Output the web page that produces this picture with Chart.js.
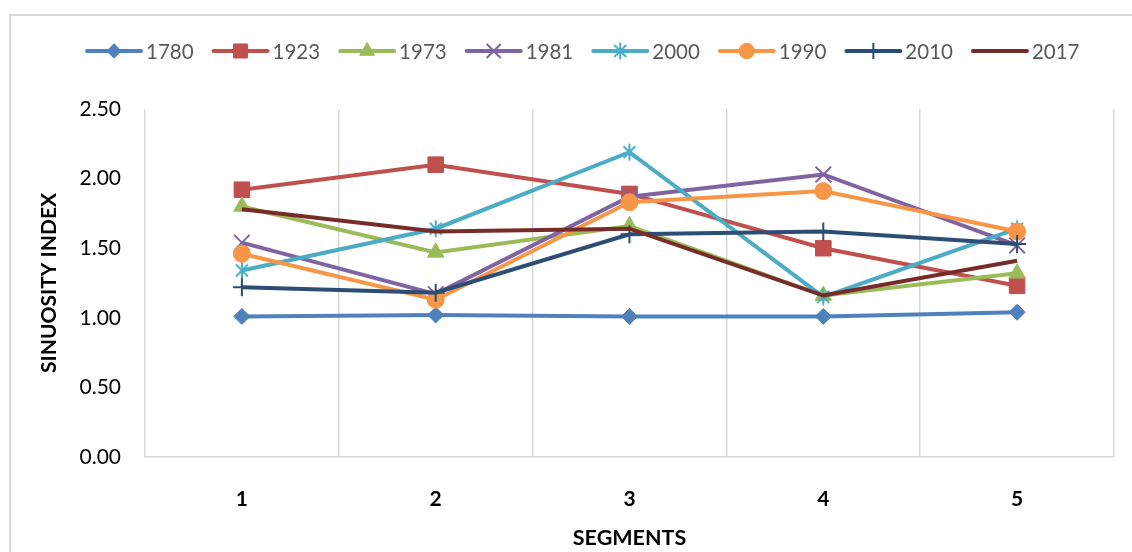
<!DOCTYPE html>
<html>
<head>
<meta charset="utf-8">
<title>Sinuosity index by segment</title>
<script src="https://cdn.jsdelivr.net/npm/chart.js@4.4.0/dist/chart.umd.min.js"></script>
<style>
  html, body { margin: 0; padding: 0; background: #ffffff; }
  #wrap { width: 1132px; height: 552px; position: relative; }
  canvas { display: block; }
</style>
</head>
<body>
<div id="wrap"><canvas id="chart" width="1132" height="552"></canvas></div>
<script>
// Segment categories and y-axis ticks
const segments = ['1', '2', '3', '4', '5'];
const yTicks = [0, 0.5, 1.0, 1.5, 2.0, 2.5];

// Sinuosity index per segment, one array per survey year
const years = ['1780', '1923', '1973', '1981', '2000', '1990', '2010', '2017'];
const s1780 = [1.01, 1.02, 1.01, 1.01, 1.04];
const s1923 = [1.92, 2.10, 1.89, 1.50, 1.23];
const s1973 = [1.80, 1.47, 1.66, 1.16, 1.32];
const s1981 = [1.54, 1.17, 1.87, 2.03, 1.52];
const s2000 = [1.34, 1.64, 2.19, 1.15, 1.64];
const s1990 = [1.46, 1.13, 1.83, 1.91, 1.62];
const s2010 = [1.22, 1.18, 1.60, 1.62, 1.53];
const s2017 = [1.78, 1.62, 1.64, 1.16, 1.41];
const seriesValues = [s1780, s1923, s1973, s1981, s2000, s1990, s2010, s2017];

// Asterisk marker (vertical stroke plus a diagonal cross)
function makeAsterisk(color) {
  const c = document.createElement('canvas');
  c.width = 20; c.height = 20;
  const g = c.getContext('2d');
  g.strokeStyle = color;
  g.lineWidth = 2;
  g.lineCap = 'butt';
  g.beginPath();
  g.moveTo(10, 1.5); g.lineTo(10, 18.5);
  g.moveTo(4, 4); g.lineTo(16, 16);
  g.moveTo(16, 4); g.lineTo(4, 16);
  g.stroke();
  return c;
}

// Line colour and marker for each year
const styles = [
  { color: '#4F81BD', point: 'rectRot',  radius: 8,   bw: 1 },
  { color: '#C0504D', point: 'rect',     radius: 11,  bw: 1 },
  { color: '#9BBB59', point: 'triangle', radius: 9.5, bw: 1 },
  { color: '#8064A2', point: 'crossRot', radius: 11,  bw: 2 },
  { color: '#4BACC6', point: makeAsterisk('#4BACC6'), radius: 9, bw: 2 },
  { color: '#F79646', point: 'circle',   radius: 8.5, bw: 1 },
  { color: '#2C4D75', point: 'cross',    radius: 9,   bw: 2 },
  { color: '#772C2A', point: false,      radius: 0,   bw: 0 }
];

const datasets = years.map((yr, i) => ({
  label: yr,
  data: seriesValues[i],
  borderColor: styles[i].color,
  backgroundColor: styles[i].color,
  borderWidth: 4,
  pointStyle: styles[i].point,
  pointRadius: styles[i].radius,
  pointHoverRadius: styles[i].radius,
  pointBorderWidth: styles[i].bw,
  pointBorderColor: styles[i].color,
  pointBackgroundColor: styles[i].color,
  tension: 0,
  fill: false,
  order: years.length - i,  // later series are painted on top
  clip: false
}));

// Frame around the chart and the line-and-marker legend across the top
const framePlugin = {
  id: 'frameAndLegend',
  beforeDraw(chart) {
    const ctx = chart.ctx;
    ctx.save();
    ctx.fillStyle = '#ffffff';
    ctx.fillRect(0, 0, chart.width, chart.height);
    ctx.strokeStyle = '#d9d9d9';
    ctx.lineWidth = 2;
    ctx.strokeRect(10, 15, chart.width + 40, chart.height + 40);
    ctx.restore();
  },
  afterDraw(chart) {
    const ctx = chart.ctx;
    const y = 51;
    const lineLen = 54, textGap = 5, itemGap = 20;
    ctx.save();
    ctx.font = '20.5px Lato, "Open Sans", sans-serif';
    ctx.textBaseline = 'middle';
    ctx.textAlign = 'left';
    let x = 87;
    chart.data.datasets.forEach((ds) => {
      ctx.strokeStyle = ds.borderColor;
      ctx.lineWidth = ds.borderWidth;
      ctx.lineCap = 'round';
      ctx.beginPath();
      ctx.moveTo(x, y);
      ctx.lineTo(x + lineLen, y);
      ctx.stroke();
      if (ds.pointStyle && ds.pointRadius > 0) {
        ctx.fillStyle = ds.pointBackgroundColor;
        ctx.strokeStyle = ds.pointBorderColor;
        ctx.lineWidth = ds.pointBorderWidth;
        ctx.lineCap = 'butt';
        Chart.helpers.drawPoint(ctx, {
          pointStyle: ds.pointStyle,
          radius: ds.pointRadius * 0.9,
          borderWidth: ds.pointBorderWidth,
          rotation: 0
        }, x + lineLen / 2, y);
      }
      ctx.fillStyle = '#595959';
      ctx.fillText(ds.label, x + lineLen + textGap, y + 1);
      x += lineLen + textGap + ctx.measureText(ds.label).width + itemGap;
    });
    ctx.restore();
  }
};

Chart.defaults.font.family = 'Lato, "Open Sans", sans-serif';

new Chart(document.getElementById('chart'), {
  type: 'line',
  data: { labels: segments, datasets: datasets },
  plugins: [framePlugin],
  options: {
    responsive: false,
    animation: false,
    devicePixelRatio: 1,
    events: [],
    layout: { padding: { left: 0, right: 18, top: 109, bottom: 0 } },
    plugins: {
      legend: { display: false },
      tooltip: { enabled: false }
    },
    scales: {
      x: {
        type: 'category',
        offset: true,
        grid: { display: true, offset: true, color: '#d9d9d9', lineWidth: 1.5, drawTicks: false },
        border: { display: true, color: '#d9d9d9', width: 1.5 },
        ticks: { color: '#000000', font: { size: 21, weight: 'bold' }, padding: 30, maxRotation: 0 },
        title: {
          display: true, text: 'SEGMENTS', color: '#000000',
          font: { size: 21.5, weight: 'bold' }, padding: { top: 0, bottom: 1 }
        },
        afterFit(scale) { scale.height = 95; }
      },
      y: {
        min: 0, max: 2.5,
        grid: { display: false, drawTicks: false },
        border: { display: false },
        afterBuildTicks(scale) { scale.ticks = yTicks.map(v => ({ value: v })); },
        ticks: {
          color: '#000000', font: { size: 21 }, padding: 24,
          callback: (v) => Number(v).toFixed(2)
        },
        title: {
          display: true, text: 'SINUOSITY INDEX', color: '#000000',
          font: { size: 21, weight: 'bold' }, padding: { top: 37, bottom: 0 }
        },
        afterFit(scale) { scale.width = 145; }
      }
    }
  }
});
</script>
</body>
</html>
